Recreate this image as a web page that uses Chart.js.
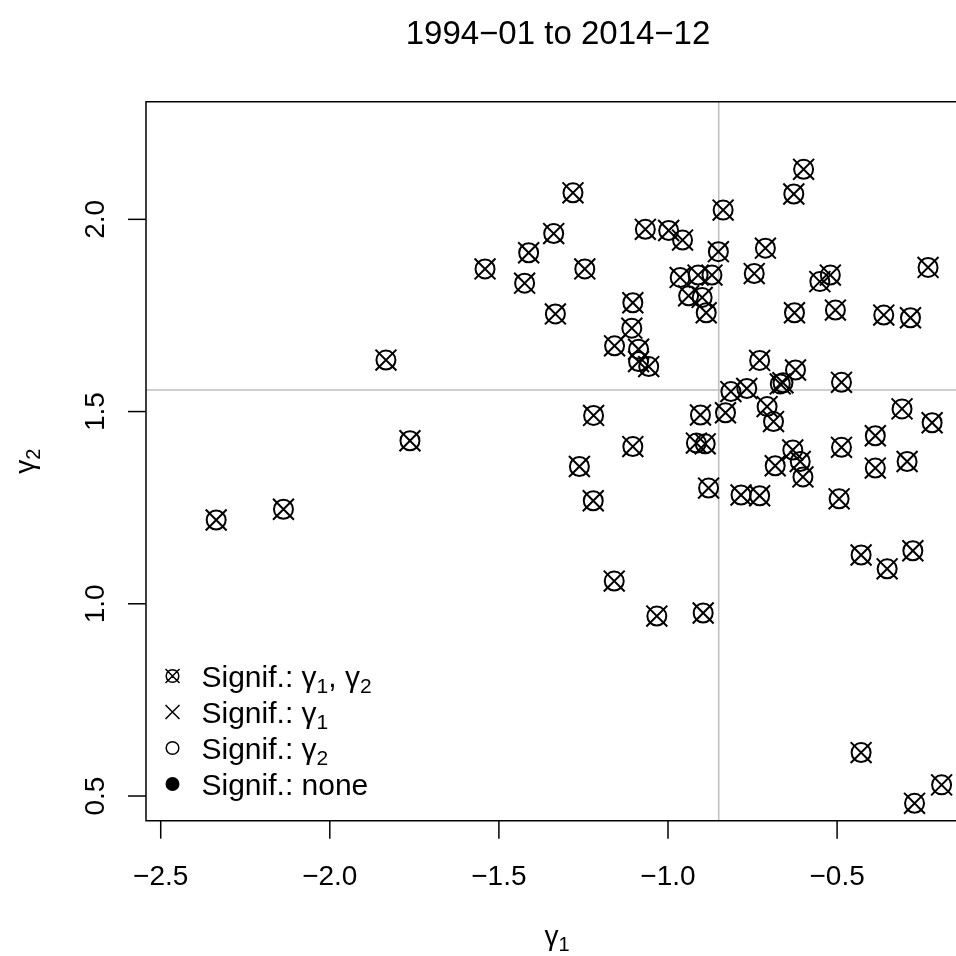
<!DOCTYPE html>
<html>
<head>
<meta charset="utf-8">
<title>1994-01 to 2014-12</title>
<script src="https://cdn.jsdelivr.net/npm/chart.js@4.4.1/dist/chart.umd.min.js"></script>
<style>
  html, body { margin: 0; padding: 0; background: #fff; }
  canvas { display: block; }
</style>
</head>
<body>
<canvas id="gammaChart" width="956" height="956"></canvas>
<script>
// estimated coefficients
var gamma1 = [-2.336, -2.137, -1.834, -1.763, -1.541, -1.412, -1.424, -1.338, -1.333, -1.281,
              -1.246, -1.220, -1.221, -1.262, -1.159, -1.158, -1.104, -1.107, -1.087, -1.087,
              -1.057, -1.104, -1.067, -0.998, -0.957, -1.033, -0.896, -0.964, -0.911, -0.870,
              -0.939, -0.899, -0.887, -0.837, -0.851, -0.904, -0.916, -0.890, -0.880, -0.830,
              -0.814, -0.767, -0.784, -0.729, -0.707, -0.688, -0.683, -0.729, -0.745, -0.712,
              -0.668, -0.660, -0.623, -0.631, -0.609, -0.601, -0.626, -0.628, -0.599, -0.551,
              -0.520, -0.505, -0.487, -0.487, -0.494, -0.387, -0.387, -0.429, -0.429, -0.362,
              -0.352, -0.308, -0.293, -0.283, -0.276, -0.271, -0.231, -0.219, -0.191];
var gamma2 = [1.218, 1.246, 1.634, 1.424, 1.871, 1.913, 1.834, 1.963, 1.754, 2.069,
              1.871, 1.490, 1.268, 1.357, 1.059, 1.671, 1.783, 1.717, 1.662, 1.630,
              1.617, 1.409, 1.974, 1.971, 1.946, 0.968, 0.976, 1.849, 1.855, 1.855,
              1.801, 1.797, 1.757, 2.024, 1.916, 1.491, 1.418, 1.416, 1.301, 1.497,
              1.552, 1.560, 1.283, 1.281, 1.513, 1.474, 1.359, 1.633, 1.859, 1.925,
              1.572, 1.575, 1.608, 1.400, 1.370, 1.330, 1.757, 2.066, 2.130, 1.838,
              1.855, 1.764, 1.576, 1.407, 1.273, 1.437, 1.353, 1.127, 0.613, 1.751,
              1.091, 1.507, 1.370, 1.744, 1.138, 0.481, 1.875, 1.471, 0.529];

// mean lines (gray)
var meanGamma1 = -0.850;
var meanGamma2 = 1.556;

var xTicks = [-2.5, -2.0, -1.5, -1.0, -0.5];
var yTicks = [0.5, 1.0, 1.5, 2.0];
var legendLabels = ['Signif.: ', 'Signif.: ', 'Signif.: ', 'Signif.: none'];

var FONT = '"Liberation Sans", Arial, Helvetica, sans-serif';

var points = gamma1.map(function(v, i) { return {x: v, y: gamma2[i]}; });

function fmt(v) {
    return (v < 0 ? '\u2212' : '') + Math.abs(v).toFixed(1);
}

// draws "base" followed by a lowered smaller "sub", returns width
function drawSub(ctx, base, sub, x, y, size) {
    ctx.font = size + 'px ' + FONT;
    ctx.fillText(base, x, y);
    var w = ctx.measureText(base).width;
    ctx.font = Math.round(size * 0.7) + 'px ' + FONT;
    ctx.fillText(sub, x + w, y + size * 0.22);
    return w + ctx.measureText(sub).width;
}
function subWidth(ctx, base, sub, size) {
    ctx.font = size + 'px ' + FONT;
    var w = ctx.measureText(base).width;
    ctx.font = Math.round(size * 0.7) + 'px ' + FONT;
    return w + ctx.measureText(sub).width;
}

var basePlot = {
    id: 'basePlot',
    beforeDatasetsDraw: function(chart) {
        var ctx = chart.ctx, a = chart.chartArea;
        var x = chart.scales.x, y = chart.scales.y;
        ctx.save();
        ctx.strokeStyle = '#bebebe';
        ctx.lineWidth = 1.5;
        var mx = x.getPixelForValue(meanGamma1);
        var my = y.getPixelForValue(meanGamma2);
        ctx.beginPath();
        ctx.moveTo(mx, a.top); ctx.lineTo(mx, a.bottom);
        ctx.moveTo(a.left, my); ctx.lineTo(a.right, my);
        ctx.stroke();
        ctx.restore();
    },
    afterDraw: function(chart) {
        var ctx = chart.ctx, a = chart.chartArea;
        var x = chart.scales.x, y = chart.scales.y;
        ctx.save();
        ctx.strokeStyle = '#000';
        ctx.fillStyle = '#000';
        ctx.lineWidth = 1.5;

        // box (right side is off the picture)
        ctx.beginPath();
        ctx.moveTo(a.right + 10, a.top);
        ctx.lineTo(a.left, a.top);
        ctx.lineTo(a.left, a.bottom);
        ctx.lineTo(a.right + 10, a.bottom);
        ctx.stroke();

        // x axis
        ctx.font = '28px ' + FONT;
        ctx.textAlign = 'center';
        ctx.textBaseline = 'middle';
        xTicks.forEach(function(v) {
            var px = x.getPixelForValue(v);
            ctx.beginPath();
            ctx.moveTo(px, a.bottom);
            ctx.lineTo(px, a.bottom + 18);
            ctx.stroke();
            ctx.fillText(fmt(v), px, a.bottom + 57);
        });

        // y axis
        yTicks.forEach(function(v) {
            var py = y.getPixelForValue(v);
            ctx.beginPath();
            ctx.moveTo(a.left, py);
            ctx.lineTo(a.left - 18, py);
            ctx.stroke();
            ctx.save();
            ctx.translate(a.left - 50, py);
            ctx.rotate(-Math.PI / 2);
            ctx.fillText(fmt(v), 0, 0);
            ctx.restore();
        });

        // title
        ctx.font = '33px ' + FONT;
        ctx.textBaseline = 'alphabetic';
        ctx.fillText('1994\u221201 to 2014\u221212', 558, 44);

        // axis titles
        ctx.textAlign = 'left';
        var w = subWidth(ctx, '\u03b3', '1', 28);
        drawSub(ctx, '\u03b3', '1', 557 - w / 2, 945, 28);

        ctx.save();
        ctx.translate(34, (a.top + a.bottom) / 2);
        ctx.rotate(-Math.PI / 2);
        w = subWidth(ctx, '\u03b3', '2', 28);
        drawSub(ctx, '\u03b3', '2', -w / 2, 0, 28);
        ctx.restore();

        // legend
        var rows = [676, 712, 748, 784];
        var mxL = 172.5, tx = 201.5, lsize = 30;
        ctx.lineWidth = 1.5;
        rows.forEach(function(ry, i) {
            ctx.beginPath();
            if (i === 0 || i === 2) {
                ctx.arc(mxL, ry, 6.3, 0, Math.PI * 2);
            }
            if (i === 0 || i === 1) {
                ctx.moveTo(mxL - 7, ry - 7); ctx.lineTo(mxL + 7, ry + 7);
                ctx.moveTo(mxL + 7, ry - 7); ctx.lineTo(mxL - 7, ry + 7);
            }
            ctx.stroke();
            if (i === 3) {
                ctx.beginPath();
                ctx.arc(mxL, ry, 7, 0, Math.PI * 2);
                ctx.fill();
            }
            var by = ry + 10.5;
            ctx.font = lsize + 'px ' + FONT;
            ctx.fillText(legendLabels[i], tx, by);
            var off = tx + ctx.measureText(legendLabels[i]).width;
            if (i === 0) {
                off += drawSub(ctx, '\u03b3', '1', off, by, lsize);
                ctx.font = lsize + 'px ' + FONT;
                ctx.fillText(', ', off, by);
                off += ctx.measureText(', ').width;
                drawSub(ctx, '\u03b3', '2', off, by, lsize);
            } else if (i === 1) {
                drawSub(ctx, '\u03b3', '1', off, by, lsize);
            } else if (i === 2) {
                drawSub(ctx, '\u03b3', '2', off, by, lsize);
            }
        });
        ctx.restore();
    }
};

var ctx = document.getElementById('gammaChart').getContext('2d');
var chart = new Chart(ctx, {
    type: 'scatter',
    data: {
        datasets: [
            {
                label: 'circle',
                data: points,
                pointStyle: 'circle',
                pointRadius: 9.5,
                pointBorderWidth: 2,
                pointBorderColor: '#000',
                pointBackgroundColor: 'rgba(0,0,0,0)'
            },
            {
                label: 'cross',
                data: points,
                pointStyle: 'crossRot',
                pointRadius: 14.8,
                pointBorderWidth: 2,
                pointBorderColor: '#000',
                pointBackgroundColor: 'rgba(0,0,0,0)'
            }
        ]
    },
    options: {
        responsive: false,
        animation: false,
        events: [],
        layout: { autoPadding: false, padding: { top: 101.7, left: 146, right: 0, bottom: 135.3 } },
        plugins: { legend: { display: false }, tooltip: { enabled: false }, title: { display: false } },
        scales: {
            x: { type: 'linear', display: false, min: -2.5435, max: -0.1484 },
            y: { type: 'linear', display: false, min: 0.4358, max: 2.306 }
        }
    },
    plugins: [basePlot]
});
</script>
</body>
</html>
